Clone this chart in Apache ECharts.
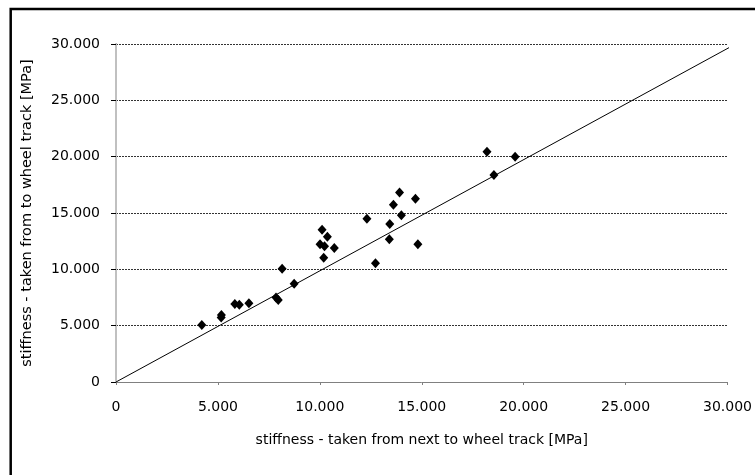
<!DOCTYPE html>
<html>
<head>
<meta charset="utf-8">
<script src="https://cdn.jsdelivr.net/npm/echarts@6/dist/echarts.min.js"></script>
<style>
  html, body { margin: 0; padding: 0; background: #fff; }
  #chart { width: 755px; height: 475px; }
</style>
</head>
<body>
<div id="chart"></div>
<script>
// Stiffness measured next to the wheel track (x) vs. in the wheel track (y), MPa
const stiffnessNext = [
  4210, 5170, 5160, 5830, 6050, 6520, 7850, 7960, 8150, 8740,
  10110, 10370, 10010, 10230, 10710, 10190, 12310, 12730, 13410, 13430,
  13610, 13910, 14000, 14690, 14810, 18200, 18540, 19580
];
const stiffnessIn = [
  5060, 5950, 5720, 6930, 6850, 6980, 7500, 7280, 10050, 8730,
  13520, 12900, 12220, 12040, 11890, 11030, 14490, 10530, 12660, 14020,
  15740, 16830, 14790, 16270, 12220, 20440, 18370, 20000
];
// Reference line through the origin
const refLineX = [0, 30300];
const refLineY = [0, 29900];

const axisMin = 0, axisMax = 30000, axisStep = 5000;

const fmt = v => v === 0 ? '0' : String(v).replace(/\B(?=(\d{3})+(?!\d))/g, '.');
const font = 'DejaVu Sans, sans-serif';

const points = stiffnessNext.map((x, i) => [x, stiffnessIn[i]]);
const refLine = refLineX.map((x, i) => [x, refLineY[i]]);

const chart = echarts.init(document.getElementById('chart'), null, { renderer: 'canvas' });
chart.setOption({
  animation: false,
  backgroundColor: '#fff',
  grid: { left: 116, right: 21, top: 44, bottom: 93, containLabel: false },
  xAxis: {
    type: 'value', min: axisMin, max: axisMax, interval: axisStep,
    name: 'stiffness - taken from next to wheel track [MPa]',
    nameLocation: 'middle', nameGap: 51,
    nameTextStyle: { color: '#000', fontFamily: font, fontSize: 14 },
    axisLine: { show: true, onZero: false, lineStyle: { color: '#808080', width: 1 } },
    axisTick: { show: true, inside: false, length: 3, lineStyle: { color: '#808080' } },
    axisLabel: { color: '#000', fontFamily: font, fontSize: 14, margin: 18, formatter: fmt },
    splitLine: { show: false }
  },
  yAxis: [{
    type: 'value', min: axisMin, max: axisMax, interval: axisStep,
    name: 'stiffness - taken from to wheel track [MPa]',
    nameLocation: 'middle', nameGap: 81,
    nameTextStyle: { color: '#000', fontFamily: font, fontSize: 14.5 },
    axisLine: { show: true, onZero: false, lineStyle: { color: '#000', width: 1 } },
    axisTick: { show: true, length: 5, lineStyle: { color: '#000' } },
    axisLabel: { color: '#000', fontFamily: font, fontSize: 14, margin: 16, formatter: fmt },
    splitLine: { show: true, lineStyle: { color: '#333', type: [2, 1], width: 1 } }
  }, {
    type: 'value', min: axisMin, max: axisMax, interval: axisStep, position: 'right',
    axisLine: { show: true, lineStyle: { color: '#c0c0c0', width: 2 } },
    axisTick: { show: false }, axisLabel: { show: false }, splitLine: { show: false }
  }],
  graphic: [{
    type: 'rect', silent: true, z: 100,
    shape: { x: 10.7, y: 9, width: 800, height: 500 },
    style: { fill: null, stroke: '#000', lineWidth: 2.5 }
  }],
  series: [{
    type: 'line', data: refLine, clip: false, showSymbol: false, symbol: 'none',
    lineStyle: { color: '#000', width: 1 }, z: 2
  }, {
    type: 'scatter', data: points, symbol: 'diamond', symbolSize: [9, 10],
    itemStyle: { color: '#000', opacity: 1 }, z: 3
  }]
});
</script>
</body>
</html>
